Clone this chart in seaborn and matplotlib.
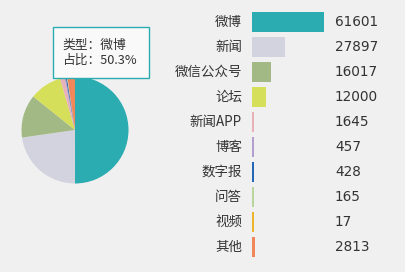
import matplotlib
matplotlib.use("Agg")
import matplotlib.pyplot as plt
import matplotlib.transforms as mtrans
from matplotlib.patches import Rectangle
import seaborn as sns
import pandas as pd

categories = ["微博", "新闻", "微信公众号", "论坛", "新闻APP", "博客", "数字报", "问答", "视频", "其他"]
values = [61601, 27897, 16017, 12000, 1645, 457, 428, 165, 17, 2813]
colors = ["#2aacb1", "#d3d3e0", "#a3b985", "#d5df59", "#e8b1b9", "#b29ecf",
          "#2666b4", "#b9d69c", "#ecb42b", "#f0875a"]
tooltip_lines = ["类型：微博", "占比：50.3%"]

sns.set_theme(style="white")
plt.rcParams['font.family'] = ['Noto Sans CJK SC', 'DejaVu Sans']

W, H = 405, 272
bg = "#f0f0f0"
fig = plt.figure(figsize=(W / 100, H / 100), dpi=100, facecolor=bg)

df = pd.DataFrame({"cat": categories, "val": values})

# Bar chart
row0, step = 22, 25
top_px = row0 - step / 2
bot_px = row0 + step * (len(categories) - 1) + step / 2
axw_px = 72
axb = fig.add_axes([252 / W, 1 - bot_px / H, axw_px / W, (bot_px - top_px) / H])
axb.set_facecolor("none")
sns.barplot(data=df, x="val", y="cat", hue="cat", palette=colors, legend=False,
            orient="h", width=0.8, ax=axb, saturation=1, linewidth=0)
axb.set_xlim(0, max(values))
axb.set_ylim(len(categories) - 0.5, -0.5)
# minimum visible bar length (like a chart library's barMinHeight): 2 px
min_len = 2.2 * max(values) / axw_px
for p in axb.patches:
    if p.get_width() < min_len:
        p.set_width(min_len)
axb.axis("off")
tr = mtrans.blended_transform_factory(fig.transFigure, axb.transData)
for i, (c, v) in enumerate(zip(categories, values)):
    axb.text(242 / W, i, c, transform=tr, ha="right", va="center",
             fontsize=9.7, color="#333333")
    axb.text(335 / W, i, str(v), transform=tr, ha="left", va="center",
             fontsize=9.8, color="#333333", family="DejaVu Sans")

# Pie chart
cx, cy, r = 75, 130, 53.5
axp = fig.add_axes([(cx - r) / W, 1 - (cy + r) / H, 2 * r / W, 2 * r / H])
axp.pie(values, colors=colors, startangle=90, counterclock=False, radius=1,
        wedgeprops=dict(linewidth=0))
axp.set_xlim(-1, 1)
axp.set_ylim(-1, 1)
axp.set_aspect("auto")
axp.axis("off")

# Tooltip
box = Rectangle((53 / W, 1 - 78 / H), 96 / W, 51 / H, transform=fig.transFigure,
                facecolor="#f9f9f9", edgecolor="#2aacb1", linewidth=1, zorder=5)
fig.patches.append(box)
for j, line in enumerate(tooltip_lines):
    fig.text(62 / W, 1 - (45 + 15 * j) / H, line, ha="left", va="center",
             fontsize=9.2, color="#333333", zorder=6)

fig.savefig("out.png", dpi=100, facecolor=bg)
